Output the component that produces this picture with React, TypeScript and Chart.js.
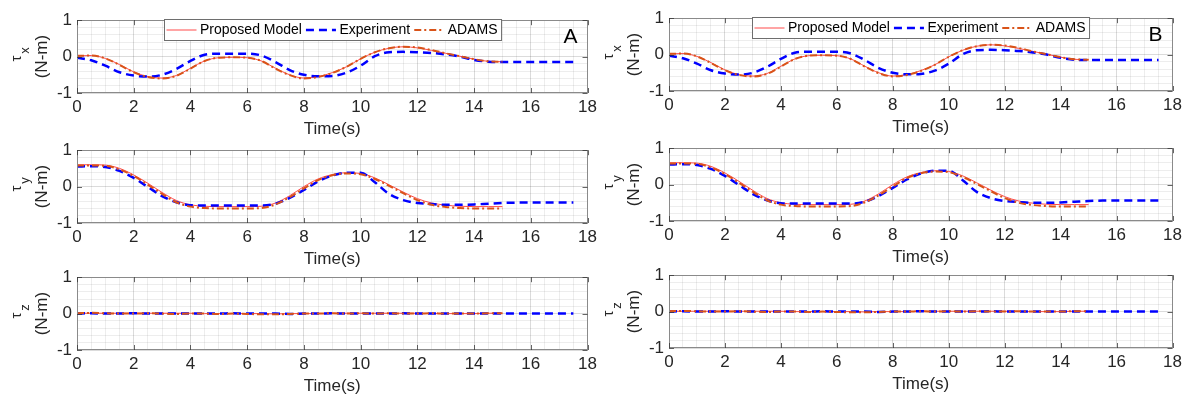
import React, { useEffect, useRef } from 'react';
import { Chart, registerables } from 'chart.js';

Chart.register(...registerables);

const FONT = "'Liberation Sans', Arial, Helvetica, sans-serif";

// ---------------- data ----------------
const tModel = [0, 0.5, 1, 1.5, 2, 2.5, 3, 3.5, 4, 4.5, 5, 5.5, 6, 6.5, 7, 7.5, 8, 8.5, 9, 9.5, 10, 10.5, 11, 11.5, 12, 12.5, 13, 13.5, 14, 14.5, 15];
const tExp = [0, 0.5, 1, 1.5, 2, 2.5, 3, 3.5, 4, 4.5, 5, 5.5, 6, 6.5, 7, 7.5, 8, 8.5, 9, 9.5, 10, 10.5, 11, 11.5, 12, 12.5, 13, 13.5, 14, 14.5, 15, 15.5, 16, 16.5, 17, 17.5];

const xTicks = [0, 2, 4, 6, 8, 10, 12, 14, 16, 18];
const yTicks = [-1, 0, 1];

const tauxModel = [0.02, 0.03, -0.05, -0.22, -0.42, -0.55, -0.59, -0.52, -0.32, -0.12, -0.03, -0.02, -0.03, -0.12, -0.32, -0.5, -0.59, -0.55, -0.44, -0.28, -0.06, 0.12, 0.23, 0.27, 0.24, 0.17, 0.09, 0.01, -0.07, -0.13, -0.14];
const tauxAdams = [0.02, 0.03, -0.05, -0.23, -0.43, -0.56, -0.6, -0.53, -0.33, -0.12, -0.03, -0.02, -0.03, -0.12, -0.33, -0.51, -0.6, -0.56, -0.45, -0.28, -0.06, 0.12, 0.23, 0.27, 0.25, 0.18, 0.09, 0.01, -0.07, -0.13, -0.14];
const tauxExp = [-0.03, -0.1, -0.25, -0.43, -0.52, -0.55, -0.5, -0.34, -0.12, 0.05, 0.08, 0.08, 0.08, 0.03, -0.15, -0.37, -0.5, -0.54, -0.53, -0.44, -0.25, 0.01, 0.12, 0.13, 0.12, 0.1, 0.06, 0.0, -0.09, -0.14, -0.15, -0.15, -0.15, -0.15, -0.15, -0.15];

const tauyModel = [0.6, 0.6, 0.59, 0.5, 0.32, 0.09, -0.16, -0.38, -0.5, -0.54, -0.55, -0.55, -0.55, -0.54, -0.45, -0.25, 0.0, 0.21, 0.33, 0.38, 0.36, 0.24, 0.05, -0.15, -0.33, -0.45, -0.51, -0.54, -0.55, -0.55, -0.55];
const tauyAdams = [0.58, 0.58, 0.57, 0.47, 0.29, 0.05, -0.2, -0.43, -0.55, -0.59, -0.6, -0.6, -0.6, -0.59, -0.49, -0.29, -0.05, 0.18, 0.31, 0.36, 0.34, 0.21, 0.02, -0.18, -0.37, -0.5, -0.56, -0.59, -0.6, -0.6, -0.6];
const tauyExp = [0.55, 0.56, 0.54, 0.43, 0.24, -0.01, -0.26, -0.43, -0.51, -0.52, -0.52, -0.52, -0.52, -0.52, -0.47, -0.31, -0.09, 0.14, 0.3, 0.38, 0.38, 0.12, -0.2, -0.37, -0.45, -0.48, -0.5, -0.5, -0.49, -0.47, -0.45, -0.44, -0.44, -0.44, -0.44, -0.44];

const tauzModel = [0.01, 0.01, 0.01, 0.01, 0.01, 0.01, 0.01, 0.01, 0.01, 0.0, 0.0, 0.0, 0.0, 0.0, -0.01, 0.0, 0.0, 0.0, 0.01, 0.01, 0.01, 0.01, 0.01, 0.01, 0.01, 0.0, 0.0, 0.0, 0.0, 0.01, 0.01];
const tauzAdams = [0.01, 0.02, 0.01, 0.0, 0.0, 0.01, 0.0, -0.01, 0.0, 0.0, -0.01, 0.0, -0.01, -0.02, -0.02, -0.01, 0.0, 0.0, 0.01, 0.0, 0.01, 0.0, 0.01, 0.0, 0.0, 0.01, 0.0, 0.0, 0.0, 0.01, 0.01];
const tauzExp = [0.0, 0.01, 0.0, 0.0, 0.01, 0.0, 0.0, 0.0, 0.0, 0.0, 0.0, 0.01, 0.0, 0.0, 0.0, -0.01, 0.0, 0.0, 0.01, 0.0, 0.0, 0.0, 0.0, 0.01, 0.0, 0.0, 0.0, 0.0, 0.0, 0.0, 0.0, 0.0, 0.0, 0.0, 0.0, 0.0];

const seriesNames = ['Proposed Model', 'Experiment', 'ADAMS'];

// ---------------- layout ----------------
const PAD_T = 14;
const PAD_R = 13;
const X_H = 47;
const PLOT_H = 74;

const TEXT = '#262626';
const GRID_MAJOR = 'rgba(0,0,0,0.14)';
const GRID_MINOR = 'rgba(0,0,0,0.07)';
const BOX = '#8a8a8a';

const isWhole = (v: number, step: number) => Math.abs(v / step - Math.round(v / step)) < 1e-6;

const decorPlugin = {
  id: 'decor',
  afterDatasetsDraw(chart: any, _args: any, opts: any) {
    const { ctx, chartArea: a, scales } = chart;
    ctx.save();
    ctx.strokeStyle = BOX;
    ctx.lineWidth = 1;
    ctx.strokeRect(Math.round(a.left) + 0.5, Math.round(a.top) + 0.5, Math.round(a.width) - 1, Math.round(a.height) - 1);
    ctx.strokeStyle = 'rgba(50,50,50,0.75)';
    ctx.beginPath();
    xTicks.forEach((t) => {
      const px = Math.round(scales.x.getPixelForValue(t)) + 0.5;
      ctx.moveTo(px, a.bottom);
      ctx.lineTo(px, a.bottom - 5);
      ctx.moveTo(px, a.top);
      ctx.lineTo(px, a.top + 5);
    });
    yTicks.forEach((t) => {
      const py = Math.round(scales.y.getPixelForValue(t)) + 0.5;
      ctx.moveTo(a.left, py);
      ctx.lineTo(a.left + 5, py);
      ctx.moveTo(a.right, py);
      ctx.lineTo(a.right - 5, py);
    });
    ctx.stroke();

    const cy = (a.top + a.bottom) / 2;
    ctx.fillStyle = TEXT;
    ctx.textAlign = 'center';
    ctx.textBaseline = 'middle';
    const drawRot = (txt: string, x: number, y: number, font: string) => {
      ctx.save();
      ctx.translate(x, y);
      ctx.rotate(-Math.PI / 2);
      ctx.font = font;
      ctx.fillText(txt, 0, 0);
      ctx.restore();
    };
    drawRot('(N-m)', a.left - 35, cy, `17px ${FONT}`);
    drawRot('τ', a.left - 60, cy + 2, `15px ${FONT}`);
    drawRot(opts.sub, a.left - 52, cy - 6, `13px ${FONT}`);

    if (opts.letter) {
      ctx.font = `21px ${FONT}`;
      ctx.textAlign = 'right';
      ctx.textBaseline = 'alphabetic';
      ctx.fillStyle = '#000';
      ctx.fillText(opts.letter, a.right - 10, a.top + 23);
    }

    if (opts.legend) {
      const ds = chart.data.datasets;
      ctx.font = `14px ${FONT}`;
      const pad = 2, lineLen = 30, g1 = 3.5, g2 = 4;
      const tw = ds.map((d: any) => ctx.measureText(d.label).width);
      let w = pad;
      tw.forEach((t: number) => { w += lineLen + g1 + t + g2; });
      const h = 21;
      const x0 = Math.round((a.left + a.right) / 2 - w / 2) + 0.5;
      const y0 = Math.round(a.top) - 0.5;
      ctx.fillStyle = '#fff';
      ctx.fillRect(x0, y0, w, h);
      ctx.strokeStyle = '#6e6e6e';
      ctx.lineWidth = 1;
      ctx.strokeRect(x0, y0, w, h);
      let x = x0 + pad;
      const ym = y0 + h / 2;
      ds.forEach((d: any, i: number) => {
        ctx.save();
        ctx.strokeStyle = d.borderColor;
        ctx.lineWidth = d.borderWidth;
        ctx.setLineDash(d.borderDash || []);
        ctx.beginPath();
        ctx.moveTo(x, ym);
        ctx.lineTo(x + lineLen, ym);
        ctx.stroke();
        ctx.restore();
        x += lineLen + g1;
        ctx.fillStyle = '#000';
        ctx.textAlign = 'left';
        ctx.textBaseline = 'middle';
        ctx.fillText(d.label, x, ym + 0.5);
        x += tw[i] + g2;
      });
    }
    ctx.restore();
  },
};

type PanelProps = {
  canvasLeft: number;
  plotTop: number;
  yW: number;
  plotW: number;
  sub: string;
  model: number[];
  exp: number[];
  adams: number[];
  letter?: string;
  legend?: boolean;
};

function Panel(p: PanelProps) {
  const ref = useRef<HTMLCanvasElement | null>(null);
  const W = p.yW + p.plotW + PAD_R;
  const H = PAD_T + PLOT_H + X_H;
  useEffect(() => {
    if (!ref.current) return;
    const pts = (ts: number[], vs: number[]) => ts.map((t, i) => ({ x: t, y: vs[i] }));
    const chart = new Chart(ref.current, {
      type: 'line',
      data: {
        datasets: [
          {
            label: seriesNames[0],
            data: pts(tModel, p.model),
            borderColor: '#FF4A4A',
            borderWidth: 1,
            pointRadius: 0,
            cubicInterpolationMode: 'monotone',
            order: 2,
          },
          {
            label: seriesNames[1],
            data: pts(tExp, p.exp),
            borderColor: '#0000FF',
            borderWidth: 2.5,
            borderDash: [8, 5],
            pointRadius: 0,
            cubicInterpolationMode: 'monotone',
            order: 1,
          },
          {
            label: seriesNames[2],
            data: pts(tModel, p.adams),
            borderColor: '#D95319',
            borderWidth: 2,
            borderDash: [7, 3, 2, 3],
            pointRadius: 0,
            cubicInterpolationMode: 'monotone',
            order: 0,
          },
        ],
      } as any,
      options: {
        animation: false,
        responsive: false,
        events: [],
        layout: { padding: { top: PAD_T, right: PAD_R, left: 0, bottom: 0 } },
        plugins: {
          legend: { display: false },
          tooltip: { enabled: false },
          decor: { sub: p.sub, letter: p.letter, legend: !!p.legend },
        } as any,
        scales: {
          x: {
            type: 'linear',
            min: 0,
            max: 18,
            ticks: {
              stepSize: 0.5,
              maxTicksLimit: 100,
              autoSkip: false,
              maxRotation: 0,
              padding: 4,
              color: TEXT,
              font: { family: FONT, size: 17 },
              callback: (v: any) => (isWhole(Number(v), 2) ? String(Math.round(Number(v))) : ''),
            },
            grid: {
              drawTicks: false,
              color: (c: any) => (isWhole(c.tick.value, 2) ? GRID_MAJOR : GRID_MINOR),
            },
            border: { display: false },
            title: {
              display: true,
              text: 'Time(s)',
              color: TEXT,
              font: { family: FONT, size: 17 },
              padding: { top: 0, bottom: 0 },
            },
            afterFit: (s: any) => { s.height = X_H; },
          },
          y: {
            type: 'linear',
            min: -1,
            max: 1,
            ticks: {
              stepSize: 0.2,
              maxTicksLimit: 100,
              autoSkip: false,
              padding: 5,
              color: TEXT,
              font: { family: FONT, size: 17 },
              callback: (v: any) => (isWhole(Number(v), 1) ? String(Math.round(Number(v))) : ''),
            },
            grid: {
              drawTicks: false,
              color: (c: any) => (isWhole(c.tick.value, 1) ? GRID_MAJOR : GRID_MINOR),
            },
            border: { display: false },
            afterFit: (s: any) => { s.width = p.yW; },
          },
        },
      } as any,
      plugins: [decorPlugin],
    });
    return () => chart.destroy();
  }, []);
  return (
    <canvas
      ref={ref}
      width={W}
      height={H}
      style={{ position: 'absolute', left: p.canvasLeft, top: p.plotTop - PAD_T, width: W, height: H }}
    />
  );
}

const colA = { canvasLeft: 0, yW: 77, plotW: 511, tops: [19, 149, 276], letter: 'A' };
const colB = { canvasLeft: 597, yW: 72, plotW: 504, tops: [17, 147, 274], letter: 'B' };

export default function App() {
  const rows = [
    { sub: 'x', model: tauxModel, exp: tauxExp, adams: tauxAdams },
    { sub: 'y', model: tauyModel, exp: tauyExp, adams: tauyAdams },
    { sub: 'z', model: tauzModel, exp: tauzExp, adams: tauzAdams },
  ];
  return (
    <div style={{ position: 'absolute', left: 0, top: 0, width: 1186, height: 400, overflow: 'hidden' }}>
      {[colA, colB].map((c, ci) =>
        rows.map((r, ri) => (
          <Panel
            key={`${ci}-${ri}`}
            canvasLeft={c.canvasLeft}
            plotTop={c.tops[ri]}
            yW={c.yW}
            plotW={c.plotW}
            sub={r.sub}
            model={r.model}
            exp={r.exp}
            adams={r.adams}
            letter={ri === 0 ? c.letter : undefined}
            legend={ri === 0}
          />
        ))
      )}
    </div>
  );
}
